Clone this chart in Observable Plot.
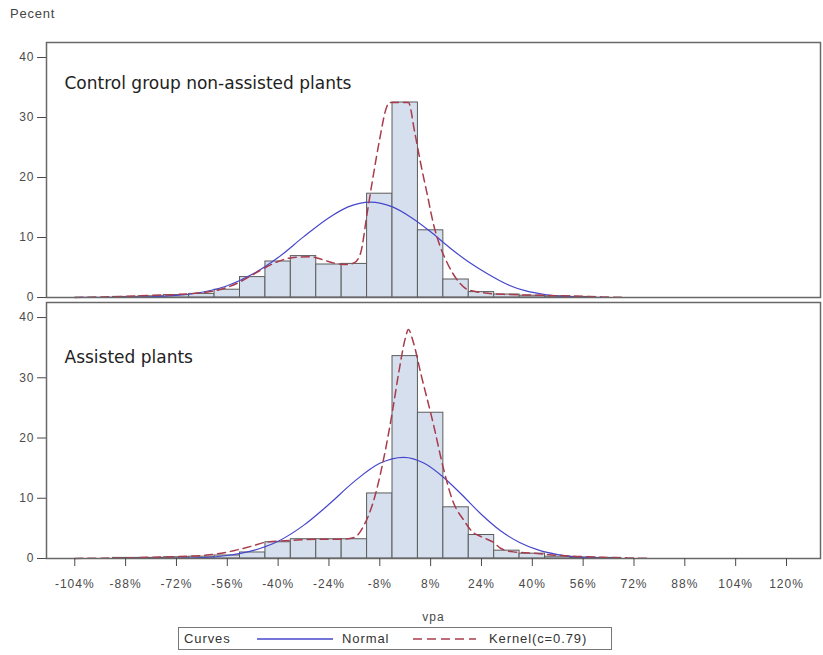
<!DOCTYPE html>
<html>
<head>
<meta charset="utf-8">
<script src="https://cdn.jsdelivr.net/npm/d3@7"></script>
<script src="https://cdn.jsdelivr.net/npm/@observablehq/plot@0.6"></script>
<style>
  body { margin: 0; background: #fff; }
  #wrap { position: relative; width: 823px; height: 655px; overflow: hidden; font-family: "Liberation Sans", Arial, sans-serif; }
  #ytitle { position: absolute; left: 10px; top: 7px; font-size: 13px; line-height: 14px; color: #444; letter-spacing: 0.8px; }
  #top { position: absolute; left: 0; top: 0; z-index: 2; }
  #bottom { position: absolute; left: 0; top: 300px; z-index: 1; }
  #top svg, #bottom svg { overflow: visible; }
  #legend { position: absolute; left: 178px; top: 627px; width: 432px; height: 21px; border: 1px solid #777; font-size: 13px; color: #333; letter-spacing: 0.9px; }
  #legend span { position: absolute; top: 3px; }
  #legend svg { position: absolute; top: 0; }
  svg g[aria-label="text"] text { letter-spacing: 0; }
</style>
</head>
<body>
<div id="wrap">
  <div id="ytitle">Pecent</div>
  <div id="top"></div>
  <div id="bottom"></div>
  <div id="legend">
    <span style="left:5px">Curves</span>
    <svg style="left:78px" width="80" height="21"><line x1="0" y1="11" x2="76" y2="11" stroke="#4646cc" stroke-width="1.3"/></svg>
    <span style="left:163px">Normal</span>
    <svg style="left:234px" width="70" height="21"><line x1="0" y1="11" x2="63" y2="11" stroke="#a83c4c" stroke-width="1.5" stroke-dasharray="9,5"/></svg>
    <span style="left:310px">Kernel(c=0.79)</span>
  </div>
</div>
<script>
// ---- data ----
const panelTitles = ["Control group non-assisted plants", "Assisted plants"];
const binStart = [-92,-84,-76,-68,-60,-52,-44,-36,-28,-20,-12,-4,4,12,20,28,36,44,52,60];
const binWidth = 8;
const topPercent    = [0.1,0.2,0.4,0.6,1.3,3.4,6.0,6.9,5.5,5.6,17.3,32.5,11.2,3.0,0.9,0.5,0.3,0.2,0.1,0];
const bottomPercent = [0.1,0.1,0.2,0.3,0.5,1.0,2.7,3.2,3.2,3.2,10.8,33.6,24.2,8.5,3.9,1.3,0.8,0.3,0.15,0.1];

const topNormalX = [-104,-96,-88,-80,-72,-64,-56,-48,-40,-32,-24,-18,-11,-4,2,8,14,20,26,32,38,44,50,56,62];
const topNormalY = [0.02,0.03,0.05,0.12,0.34,0.87,1.96,3.9,6.66,10.1,13.3,15.1,15.9,15.1,13.3,10.95,8.3,5.9,3.9,2.2,1.1,0.5,0.2,0.07,0.02];
const topKernelX = [-104,-96,-88,-80,-72,-66,-60,-56,-52,-48,-44,-40,-36,-30,-26,-22,-18,-16,-14,-12,-10,-8,-6,-5,1,3,5,7,9,11,13,15,17,19,22,26,32,40,48,56,62,68];
const topKernelY = [0.02,0.08,0.2,0.35,0.5,0.7,1.1,1.7,2.6,3.8,5.0,6.0,6.6,6.8,6.3,5.7,5.5,5.8,7.5,14,20.5,26.5,31.5,32.5,32.5,27.5,22,17,12,8.5,6,4,2.5,1.5,1.0,0.7,0.5,0.4,0.3,0.2,0.1,0.03];

const bottomNormalX = [-88,-80,-72,-64,-56,-48,-40,-32,-24,-16,-8,-0.5,6,12,18,24,30,36,42,48,54,60,66];
const bottomNormalY = [0.01,0.02,0.04,0.15,0.5,1.3,2.86,5.5,9.0,12.8,15.8,16.8,15.8,13.5,10.5,7.3,4.6,2.65,1.38,0.65,0.27,0.1,0.03];
const bottomKernelX = [-104,-96,-88,-80,-72,-64,-60,-54,-48,-44,-36,-28,-20,-16,-13,-10,-7,-4,-2,0,1,2.5,5,9,12,15,18.5,21,24,28,30,34,40,46,54,62,70,76];
const bottomKernelY = [0.02,0.05,0.1,0.2,0.3,0.5,0.7,1.3,2.1,2.7,3.0,3.2,3.2,3.5,5.5,9.5,16,24.5,31,36.5,38,36,30.5,22,15,9.5,6.3,4.5,3.6,2.6,1.7,1.1,0.9,0.6,0.35,0.2,0.1,0.03];

const xTicks = [-104,-88,-72,-56,-40,-24,-8,8,24,40,56,72,88,104,120];
const yTicks = [0,10,20,30,40];
const xDomain = [-112.9, 130.7];
const yDomain = [0, 42.5];

// ---- helpers ----
const bars = (heights) => binStart.map((s, i) => ({x1: s, x2: s + binWidth, y: heights[i]})).filter(d => d.y > 0);
const pts = (xs, ys) => xs.map((x, i) => ({x, y: ys[i]}));

const normalColor = "#4646cc";
const kernelColor = "#a83c4c";

function panel({heights, nX, nY, kX, kY, title, height, marginTop, marginBottom, showX, titleDy}) {
  const marks = [
    Plot.rectY(bars(heights), {x1: "x1", x2: "x2", y: "y", fill: "#d5dfee", stroke: "#5c5c5c", strokeWidth: 1}),
    Plot.line(pts(nX, nY), {x: "x", y: "y", stroke: normalColor, strokeWidth: 1.2, curve: "monotone-x"}),
    Plot.line(pts(kX, kY), {x: "x", y: "y", stroke: kernelColor, strokeWidth: 1.5, strokeDasharray: "8,5", curve: "monotone-x"}),
    Plot.axisY({ticks: yTicks, tickSize: 9, tickPadding: 3, label: null, fontSize: 12}),
    Plot.text([title], {frameAnchor: "top-left", text: d => d, dx: 18, dy: titleDy, lineAnchor: "bottom", textAnchor: "start", fontSize: 17, fontFamily: "DejaVu Sans", fill: "#222"}),
    Plot.frame({stroke: "#686868", strokeWidth: 1.5})
  ];
  if (showX) {
    marks.push(Plot.axisX({ticks: xTicks, tickFormat: d => d + "%", tickSize: 8, tickPadding: 13, label: "vpa", labelAnchor: "center", labelArrow: "none", labelOffset: 62, fontSize: 12}));
  }
  return Plot.plot({
    width: 823,
    height,
    marginLeft: 46,
    marginRight: 3,
    marginTop,
    marginBottom,
    style: {fontFamily: "Liberation Sans, Arial, sans-serif", fontSize: "12px", color: "#4a4a4a", letterSpacing: "1px", background: "transparent", overflow: "visible"},
    x: {domain: xDomain, axis: null},
    y: {domain: yDomain, axis: null},
    marks
  });
}

document.getElementById("top").appendChild(panel({
  heights: topPercent, nX: topNormalX, nY: topNormalY, kX: topKernelX, kY: topKernelY,
  title: panelTitles[0], height: 300, marginTop: 42, marginBottom: 3, showX: false, titleDy: 46
}));
document.getElementById("bottom").appendChild(panel({
  heights: bottomPercent, nX: bottomNormalX, nY: bottomNormalY, kX: bottomKernelX, kY: bottomKernelY,
  title: panelTitles[1], height: 325, marginTop: 2, marginBottom: 67, showX: true, titleDy: 60
}));
</script>
</body>
</html>
